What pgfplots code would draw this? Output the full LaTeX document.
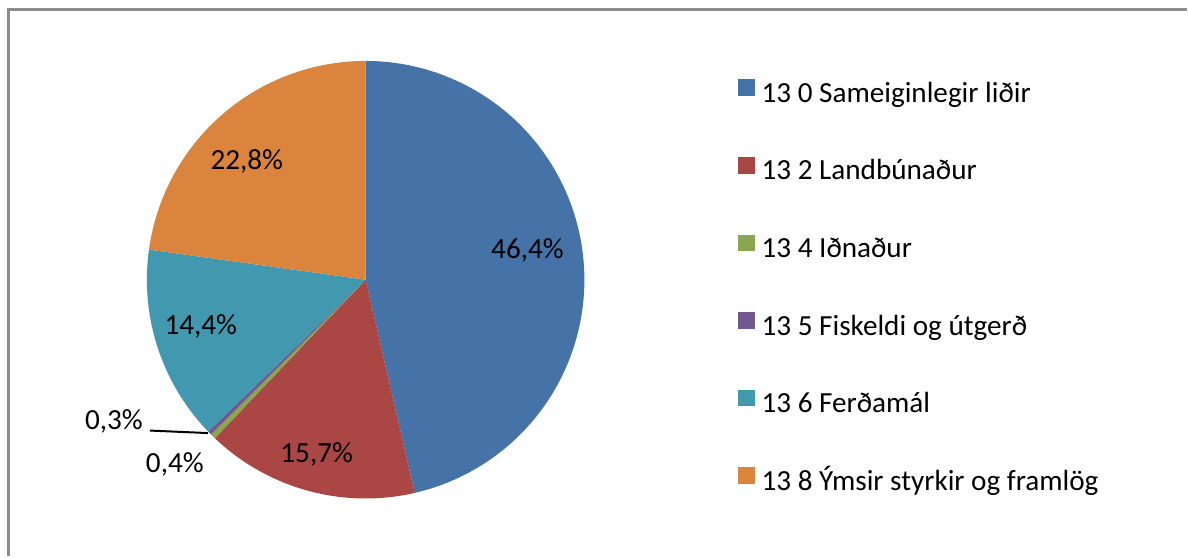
\documentclass[border=0pt]{standalone}
\usepackage{pgfplots}
\pgfplotsset{compat=1.18}
\usepackage{fontspec}
\setmainfont{Carlito}
\definecolor{cBlue}{HTML}{4572A7}
\definecolor{cRed}{HTML}{AA4643}
\definecolor{cGreen}{HTML}{89A54E}
\definecolor{cPurple}{HTML}{71588F}
\definecolor{cTeal}{HTML}{4198AF}
\definecolor{cOrange}{HTML}{DB843D}
\definecolor{cFrame}{HTML}{8C8C8C}
% shares in percent
\def\vA{46.4}\def\vB{15.7}\def\vC{0.4}\def\vD{0.3}\def\vE{14.4}\def\vF{22.8}
\begin{document}
\begin{tikzpicture}
\pgfmathsetmacro{\aA}{90}
\pgfmathsetmacro{\aB}{\aA-3.6*\vA}
\pgfmathsetmacro{\aC}{\aB-3.6*\vB}
\pgfmathsetmacro{\aD}{\aC-3.6*\vC}
\pgfmathsetmacro{\aE}{\aD-3.6*\vD}
\pgfmathsetmacro{\aF}{\aE-3.6*\vE}
\pgfmathsetmacro{\aG}{\aF-3.6*\vF}
\begin{axis}[
  scale only axis, width=594bp, height=278.5bp,
  xmin=0, xmax=1188, ymin=0, ymax=557,
  hide axis, clip=false,
  font=\fontsize{14.6bp}{17.5bp}\selectfont,
  legend cell align=left,
  legend image code/.code={\fill[#1,draw=none] (0bp,-0.3bp) rectangle (8.5bp,8bp);},
  legend style={at={(axis cs:738,478)}, anchor=north west, draw=none, fill=none,
    inner sep=0pt, row sep=24.35bp, column sep=3.5bp,
    nodes={inner sep=0pt, text height=10bp, text depth=3bp},
    font=\fontsize{14.6bp}{17.5bp}\selectfont},
]
\path (axis cs:0,0) rectangle (axis cs:1188,557);
\addplot[fill=cBlue, draw=none, domain=\aB:\aA, samples=90, variable=\t]
  ({366+219*cos(t)},{277+219*sin(t)}) -- (axis cs:366,277) -- cycle;
\addlegendentry{13 0 Sameiginlegir liðir}
\addplot[fill=cRed, draw=none, domain=\aC:\aB, samples=40, variable=\t]
  ({366+219*cos(t)},{277+219*sin(t)}) -- (axis cs:366,277) -- cycle;
\addlegendentry{13 2 Landbúnaður}
\addplot[fill=cGreen, draw=none, domain=\aD:\aC, samples=5, variable=\t]
  ({366+219*cos(t)},{277+219*sin(t)}) -- (axis cs:366,277) -- cycle;
\addlegendentry{13 4 Iðnaður}
\addplot[fill=cPurple, draw=none, domain=\aE:\aD, samples=5, variable=\t]
  ({366+219*cos(t)},{277+219*sin(t)}) -- (axis cs:366,277) -- cycle;
\addlegendentry{13 5 Fiskeldi og útgerð}
\addplot[fill=cTeal, draw=none, domain=\aF:\aE, samples=40, variable=\t]
  ({366+219*cos(t)},{277+219*sin(t)}) -- (axis cs:366,277) -- cycle;
\addlegendentry{13 6 Ferðamál}
\addplot[fill=cOrange, draw=none, domain=\aG:\aF, samples=60, variable=\t]
  ({366+219*cos(t)},{277+219*sin(t)}) -- (axis cs:366,277) -- cycle;
\addlegendentry{13 8 Ýmsir styrkir og framlög}
% leader line
\addplot[black, line width=1bp, forget plot] coordinates {(150,126) (208,123.5)};
% frame
\addplot[cFrame, line width=1.2bp, forget plot] coordinates {(8.5,0) (8.5,547.5) (1188,547.5)};
% data labels
\node at (axis cs:528,306) {46,4\%};
\node at (axis cs:317,102) {15,7\%};
\node at (axis cs:201,230) {14,4\%};
\node at (axis cs:247,395) {22,8\%};
\node at (axis cs:114,135) {0,3\%};
\node at (axis cs:175,92) {0,4\%};
\end{axis}
\end{tikzpicture}
\end{document}
